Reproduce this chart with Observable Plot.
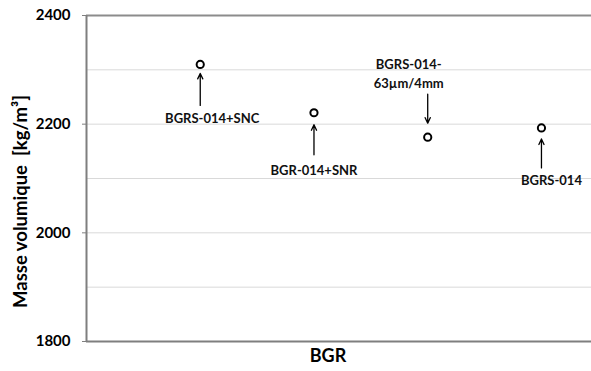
<!DOCTYPE html>
<html>
<head>
<meta charset="utf-8">
<script src="https://cdn.jsdelivr.net/npm/d3@7"></script>
<script src="https://cdn.jsdelivr.net/npm/@observablehq/plot@0.6"></script>
<style>
  html, body { margin: 0; padding: 0; background: #fff; }
  #chart svg { display: block; }
</style>
</head>
<body>
<div id="chart"></div>
<script>
// ---- data ----
const samples = ["BGRS-014+SNC", "BGR-014+SNR", "BGRS-014-\n63µm/4mm", "BGRS-014"];
const positions = [1, 2, 3, 4];
const density = [2310, 2221, 2176, 2193];
const yTickValues = [1800, 2000, 2200, 2400];
const yGridValues = [1900, 2000, 2100, 2200, 2300];
const xTitle = "BGR";
const yTitle = "Masse volumique\u00a0\u00a0[kg/m³]";

// ---- annotation layout (pixel offsets relative to each point) ----
const arrowHeadPx = [9, 12, -14, 11];
const arrowTailPx = [41, 42, -43, 40];
const labelDyPx = [53, 56, -65, 51];
const labelDxPx = [12, 0, -19, 10];

const W = 591, H = 371;
const mT = 15, mB = 30, mL = 86, mR = 0;
const yDomain = [1800, 2400];
const pxPerUnit = (H - mT - mB) / (yDomain[1] - yDomain[0]);

const data = samples.map((s, i) => ({
  name: s, x: positions[i], v: density[i],
  head: density[i] - arrowHeadPx[i] / pxPerUnit,
  tail: density[i] - arrowTailPx[i] / pxPerUnit,
  dx: labelDxPx[i], dy: labelDyPx[i]
}));

const font = "Lato, 'Open Sans', sans-serif";

const plot = Plot.plot({
  width: W, height: H,
  marginTop: mT, marginBottom: mB, marginLeft: mL, marginRight: mR,
  style: { fontFamily: font, background: "#fff" },
  x: { domain: [0, 4.44], axis: null },
  y: { domain: yDomain, axis: null },
  marks: [
    Plot.gridY(yGridValues, { stroke: "#d9d9d9", strokeOpacity: 1, strokeWidth: 1 }),
    Plot.ruleY([yDomain[1]], { stroke: "#8c8c8c", strokeWidth: 2 }),
    Plot.ruleY([yDomain[0]], { stroke: "#7f7f7f", strokeWidth: 2 }),
    Plot.ruleX([0], { stroke: "#7f7f7f", strokeWidth: 2 }),
    Plot.axisY(yTickValues, {
      tickSize: 4, tickPadding: 12, stroke: "#7f7f7f",
      fontSize: 15, fontWeight: "bold", fill: "#000", tickFormat: d => String(d), label: null
    }),
    Plot.text([yTitle], {
      frameAnchor: "left", textAnchor: "middle", rotate: -90, dx: -65, dy: 23,
      fontSize: 18.5, fontWeight: "bold", fill: "#000"
    }),
    Plot.text([xTitle], {
      frameAnchor: "bottom", dx: -11, dy: 20,
      fontSize: 18, fontWeight: "bold", fill: "#000"
    }),
    Plot.arrow(data, {
      x1: "x", x2: "x", y1: "tail", y2: "head",
      stroke: "#000", strokeWidth: 1.3, headLength: 7, headAngle: 50
    }),
    ...data.map(d => Plot.text([d], {
      x: "x", y: "v", text: "name", dx: d.dx, dy: d.dy,
      fontSize: 13, fontWeight: "bold", fill: "#111", lineHeight: 1.45,
      textAnchor: "middle"
    })),
    Plot.dot(data, { x: "x", y: "v", r: 3.6, stroke: "#000", strokeWidth: 2, fill: "#fff" })
  ]
});
document.getElementById("chart").appendChild(plot);
</script>
</body>
</html>
